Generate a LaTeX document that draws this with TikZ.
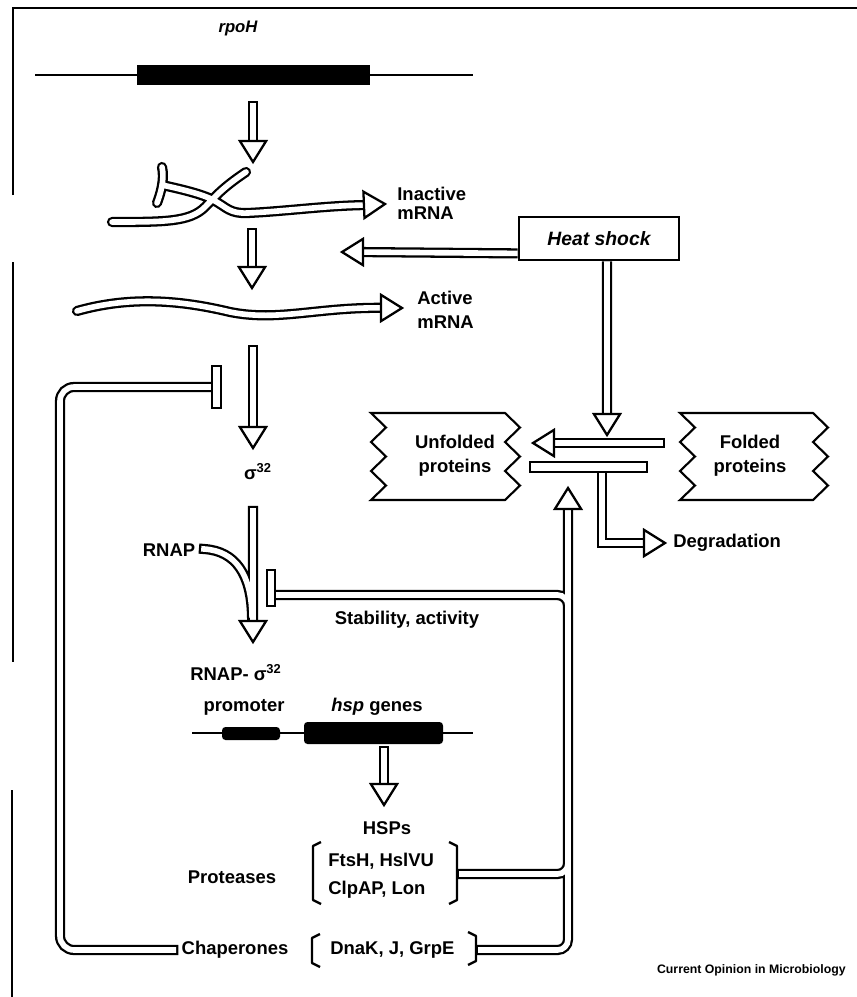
\documentclass[tikz,border=0pt]{standalone}
\usepackage{fontspec}
\setmainfont{Liberation Sans}
\usetikzlibrary{calc}

\tikzset{
  lbl/.style={font=\fontsize{10.5}{13.5}\selectfont\bfseries, inner sep=0pt},
  tube/.style={draw, line width=1.3pt, double=white, double distance=3.2pt, line cap=rect},
  headtri/.style={draw, fill=white, line width=1.3pt, line join=miter},
  tbar/.style={draw, fill=white, line width=1.3pt},
  zig/.style={line width=1.2pt, line join=miter},
  brk/.style={line width=1.3pt, line join=round},
  gene/.style={line width=0.9pt}
}

% hollow arrow head with its tip at #2, coming from #1
\newcommand{\headat}[2]{%
  \path #2 coordinate (hT) ($#2!12pt!#1$) coordinate (hB);
  \draw[headtri] (hT) -- ($(hB)!7.5pt!90:(hT)$) -- ($(hB)!7.5pt!-90:(hT)$) -- cycle;}

% box with zigzag sides: left x, right x, top y, bottom y
\newcommand{\zigbox}[4]{%
  \draw[zig] (#1,#3) -- (#2,#3)
    \foreach \k in {1,...,6} { -- ({#2+15*mod(\k,2)},{#3+(#4-#3)*\k/6}) }
    -- (#1,#4)
    \foreach \k in {5,...,1} { -- ({#1+15*mod(\k,2)},{#3+(#4-#3)*\k/6}) } -- cycle;}

\begin{document}
\begin{tikzpicture}[x=0.02cm, y=-0.02cm]
\useasboundingbox (0,0) rectangle (857,997);

\draw[line width=0.8pt] (13,195) -- (13,8) -- (857,8);
\draw[line width=0.8pt] (13,262) -- (13,662);
\draw[line width=0.8pt] (12,790) -- (12,997);

% rpoH gene and its mRNA
\node[lbl, font=\fontsize{9.5}{11}\selectfont\bfseries\itshape] (rpoh) at (238,28) {rpoH};
\draw[gene] (35,75) -- (473,75);
\fill (137,65) rectangle (370,85);

\draw[tube] (253,106) -- (253,150);
\headat{(253,106)}{(253,162)}

\draw[tube, line cap=round] (112,222) .. controls (165,222) and (190,222) .. (205,207)
    .. controls (215,197) and (222,188) .. (246,172)
  (162,167) .. controls (165,180) and (160,195) .. (157,203)
  (162,185) .. controls (185,190) and (205,195) .. (215,201)
    .. controls (226,207) and (230,214) .. (248,213)
    .. controls (290,211) and (330,205) .. (372,205);
\headat{(360,205)}{(385,204)}
\node[lbl, anchor=west, align=left, font=\fontsize{10.5}{11}\selectfont\bfseries] (inact) at (397,203) {Inactive\\mRNA};

\draw[tube] (252,233) -- (252,278);
\headat{(252,233)}{(252,288)}

\draw[tube, line cap=round] (77,311) .. controls (130,296) and (180,300) .. (230,312)
  .. controls (280,322) and (320,306) .. (390,308);
\headat{(380,308)}{(402,308)}
\node[lbl, anchor=west, align=left] (act) at (417,310) {Active\\mRNA};

% heat shock
\node[draw, line width=1.6pt, minimum width=3.2cm, minimum height=0.86cm, inner sep=0pt,
  font=\fontsize{11}{13}\selectfont\bfseries\itshape] (hs) at (599,238.5) {Heat shock};
\draw[tube, line cap=butt] ([yshift=0.16cm]hs.south west) -- (355,252);
\headat{(500,252)}{(342,252)}
\draw[tube, line cap=butt] ([xshift=0.16cm]hs.south) -- (607,425);
\headat{(607,300)}{(607,435)}

% proteins
\zigbox{371}{505}{413}{500}
\zigbox{680}{813}{413}{500}
\node[lbl, align=center] (unf) at (455,456) {Unfolded\\proteins};
\node[lbl, align=center] (fold) at (750,456) {Folded\\proteins};

\draw[tube] (660,443) -- (545,443);
\headat{(660,443)}{(533,443)}

\node[lbl, anchor=west] (deg) at (673,543) {Degradation};
\draw[tube] (602,470) |- (650,543);
\draw[tbar] (530,462) rectangle (647,472);
\headat{(602,543)}{([xshift=-0.16cm]deg.west)}

% sigma 32
\draw[tube] (253,350) -- (253,438);
\headat{(253,350)}{(253,448)}
\node[lbl] (sig) at (258,472) {σ\textsuperscript{32}};

\node[lbl] (rnap) at (169,550) {RNAP};
\draw[tube] (253,511) -- (253,630)
  (204,549) .. controls (236,551) and (251,575) .. (252,615);
\headat{(253,600)}{(253,642)}
\node[lbl] (cplx) at (236,673) {RNAP- σ\textsuperscript{32}};

% hsp genes
\node[lbl] (prom) at (244,707) {promoter};
\node[lbl] (hsp) at (377,707) {\textit{hsp} genes};
\draw[gene] (192,733) -- (473,733);
\fill[rounded corners=2pt] (222,727) rectangle (280,740);
\fill[rounded corners=2pt] (304,722) rectangle (443,744);

\draw[tube] (384,751) -- (384,795);
\headat{(384,751)}{(384,805)}
\node[lbl] (hsps) at (387,828) {HSPs};

\node[lbl] (prot) at (232,877) {Proteases};
\node[lbl, anchor=west, align=left, font=\fontsize{10.5}{16}\selectfont\bfseries] (protlist) at (328,876) {FtsH, HslVU\\ClpAP, Lon};
\draw[brk] (321,842) -- (313,846) -- (313,900) -- (321,904);
\draw[brk] (449,842) -- (457,846) -- (457,900) -- (449,904);

\node[lbl] (chap) at (235,950) {Chaperones};
\node[lbl, anchor=west] (chaplist) at (330,950) {DnaK, J, GrpE};
\draw[brk] (320,934) -- (312,938) -- (312,963) -- (320,967);
\draw[brk] (468,932) -- (476,936) -- (476,961) -- (468,965);

% feedback
\node[lbl] (stab) at (407,620) {Stability, activity};
\draw[tube, rounded corners=6pt] (481,950) -| (568,500)
  (462,874) -| (568,780)
  (272,595) -| (568,700);
\headat{(568,600)}{(568,488)}
\draw[tbar] (267,570) rectangle (275,606);

\draw[tube, rounded corners=8pt] ([xshift=-0.16cm]chap.west) -| (60,387) -- (214,387);
\draw[tbar] (212,366) rectangle (221,408);

\node[font=\fontsize{7}{8}\selectfont\bfseries, anchor=east, inner sep=0pt] (src) at (846,970) {Current Opinion in Microbiology};
\end{tikzpicture}
\end{document}
